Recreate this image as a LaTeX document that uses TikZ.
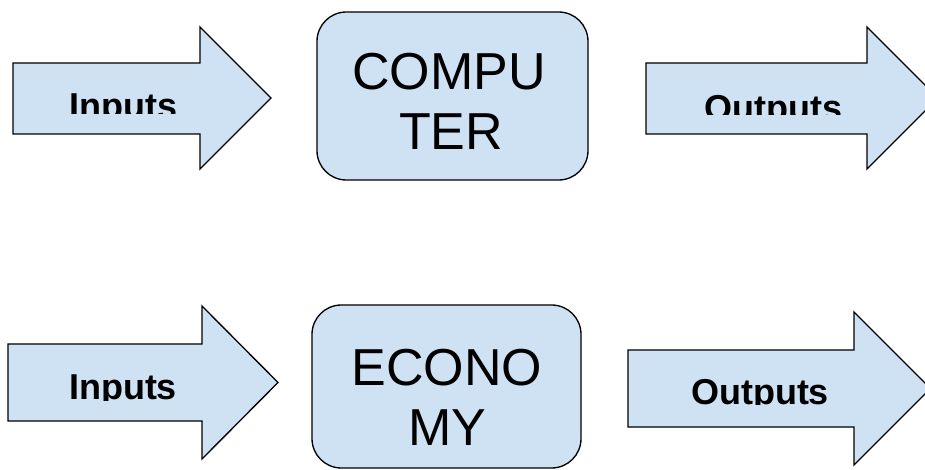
\documentclass[tikz,border=0pt]{standalone}
\usepackage{fontspec}
\setmainfont{Liberation Sans}
\definecolor{boxfill}{HTML}{CFE2F3}
\begin{document}
\begin{tikzpicture}[x=0.75pt,y=-0.75pt,
  shapefill/.style={fill=boxfill,draw=black,line width=1pt,line join=miter},
  boxshape/.style={shapefill,rounded corners=22pt,inner sep=0pt},
  lbl/.style={font=\fontsize{27}{32}\selectfont\bfseries,inner sep=0pt,anchor=base},
  big/.style={font=\fontsize{39}{45}\selectfont,inner sep=0pt,anchor=base}]
\clip (0,0) rectangle (925,470);
% top row
\draw[shapefill] (13,63) -- (200,63) -- (200,27) -- (271,98) -- (200,169) -- (200,134) -- (13,134) -- cycle;
\draw[shapefill] (646,63) -- (867,63) -- (867,27) -- (938,98) -- (867,169) -- (867,134) -- (646,134) -- cycle;
\node[boxshape,minimum width=203.25pt,minimum height=126pt] (computer) at (452.5,96) {};
\node[big] (comp1) at (449,90) {COMPU};
\node[big] (comp2) at (451,150) {TER};
\begin{scope}
\clip (13,60) rectangle (200,114);
\node[lbl] (in1) at (123.5,119) {Inputs};
\end{scope}
\begin{scope}
\clip (646,60) rectangle (867,115);
\node[lbl] (out1) at (773.5,121) {Outputs};
\end{scope}
% bottom row
\draw[shapefill] (8,344) -- (202,344) -- (202,306) -- (278,382.5) -- (202,459) -- (202,421) -- (8,421) -- cycle;
\draw[shapefill] (628,350) -- (854,350) -- (854,312) -- (930.5,388.5) -- (854,465) -- (854,427) -- (628,427) -- cycle;
\node[boxshape,minimum width=201.75pt,minimum height=122.25pt] (economy) at (446.5,386.5) {};
\node[big] (eco1) at (447,385) {ECONO};
\node[big] (eco2) at (447.5,445) {MY};
\begin{scope}
\clip (8,340) rectangle (202,400);
\node[lbl] (in2) at (123,399) {Inputs};
\end{scope}
\begin{scope}
\clip (628,340) rectangle (854,404);
\node[lbl] (out2) at (760,404) {Outputs};
\end{scope}
\end{tikzpicture}
\end{document}
